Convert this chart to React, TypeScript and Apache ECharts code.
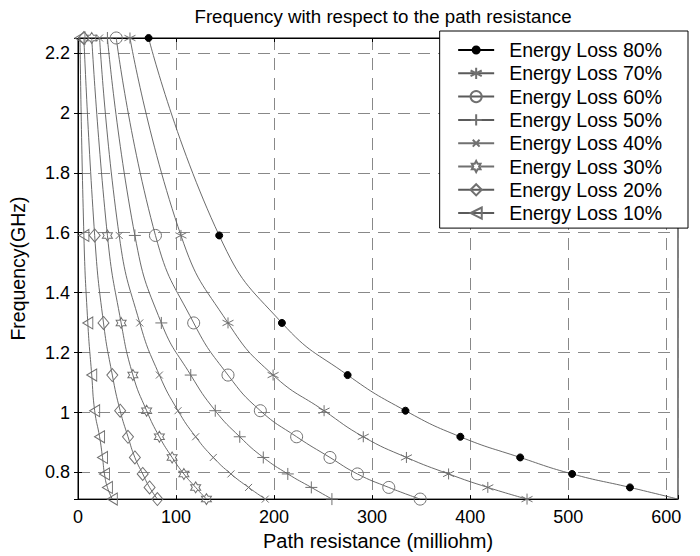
import React, { useEffect, useRef } from 'react';
import * as echarts from 'echarts';

// Frequency (GHz) at each measured point
const frequencyGHz = [2.25, 1.591, 1.299, 1.125, 1.006, 0.919, 0.85, 0.795, 0.75, 0.711];

// Path resistance (milliohm) for each energy loss level, one value per frequency
const loss80 = [72, 144, 208, 275, 334, 390, 451, 504, 563, 612];
const loss70 = [53, 105, 153, 199, 251, 291, 335, 378, 418, 458];
const loss60 = [39, 79, 118, 153, 186, 223, 257, 285, 317, 349];
const loss50 = [30, 58, 85, 115, 140, 165, 189, 214, 238, 259];
const loss40 = [22, 42, 63, 83, 102, 120, 138, 156, 174, 191];
const loss30 = [14, 30, 44, 56, 70, 83, 96, 108, 120, 131];
const loss20 = [6, 17, 26, 35, 43, 51, 58, 66, 73, 81];
const loss10 = [2, 6, 10, 14, 17, 22, 25, 27, 30, 35];

const seriesNames = [
  'Energy Loss 80%',
  'Energy Loss 70%',
  'Energy Loss 60%',
  'Energy Loss 50%',
  'Energy Loss 40%',
  'Energy Loss 30%',
  'Energy Loss 20%',
  'Energy Loss 10%',
];
const seriesValues = [loss80, loss70, loss60, loss50, loss40, loss30, loss20, loss10];

const xTicks = [0, 100, 200, 300, 400, 500, 600];
const yTicks = [0.8, 1, 1.2, 1.4, 1.6, 1.8, 2, 2.2];

const FONT = '"Liberation Sans", Arial, Helvetica, sans-serif';
const LINE = '#5a5a5a';
const MARK = '#707070';

const HEXAGRAM =
  'path://M10,0 L12.89,5 L18.66,5 L15.77,10 L18.66,15 L12.89,15 L10,20 L7.11,15 L1.34,15 L4.23,10 L1.34,5 L7.11,5 Z';
const ASTERISK = 'path://M5,0 L5,10 M0.67,2.5 L9.33,7.5 M0.67,7.5 L9.33,2.5';
const PLUS = 'path://M5,0 L5,10 M0,5 L10,5';
const CROSS = 'path://M0,0 L10,10 M0,10 L10,0';
const LEFT_TRI = 'path://M10,0 L0,6 L10,12 Z';

// legend icons drawn over the full 36x14 legend item box: line + small marker
const LEG_DOT =
  'path://M0,0 M36,14 M0,7 L36,7 M14.5,7 A3.5,3.5 0 1 1 21.5,7 A3.5,3.5 0 1 1 14.5,7 Z';
const LEG_CROSS = 'path://M0,0 M36,14 M0,7 L36,7 M14.6,3.6 L21.4,10.4 M14.6,10.4 L21.4,3.6';
const LEG_HEX =
  'path://M0,0 M36,14 M0,7 L13.67,7 M22.33,7 L36,7 M18,1.5 L19.45,4.25 L22.33,4.25 L20.89,7 L22.33,9.75 L19.45,9.75 L18,12.5 L16.56,9.75 L13.67,9.75 L15.12,7 L13.67,4.25 L16.56,4.25 Z';

const markerStyles: any[] = [
  { symbol: 'circle', size: 7, fill: '#000', border: '#000', legendIcon: LEG_DOT },
  { symbol: ASTERISK, size: 11, fill: 'none', border: MARK },
  { symbol: 'circle', size: 12, fill: 'none', border: MARK },
  { symbol: PLUS, size: 12, fill: 'none', border: MARK },
  { symbol: CROSS, size: 7, fill: 'none', border: MARK, legendIcon: LEG_CROSS },
  { symbol: HEXAGRAM, size: [10, 11], fill: 'none', border: MARK, legendIcon: LEG_HEX },
  { symbol: 'diamond', size: [11, 13], fill: 'none', border: MARK },
  { symbol: LEFT_TRI, size: [10, 12], fill: 'none', border: MARK },
];

function isTick(v: number, ticks: number[]) {
  return ticks.some((t) => Math.abs(t - v) < 1e-6);
}

function buildOption() {
  const series = seriesValues.map((vals, i) => {
    const m = markerStyles[i];
    return {
      name: seriesNames[i],
      type: 'line',
      xAxisIndex: 0,
      yAxisIndex: 0,
      smooth: true,
      clip: false,
      symbol: m.symbol,
      symbolSize: m.size,
      silent: true,
      emphasis: { disabled: true },
      lineStyle: { color: LINE, width: 0.9 },
      itemStyle: { color: m.fill, borderColor: m.border, borderWidth: 1 },
      data: vals.map((r, k) => {
        if (i === 0 && k === vals.length - 1) {
          return { value: [r, frequencyGHz[k]], symbol: 'none' };
        }
        return [r, frequencyGHz[k]];
      }),
      z: 3,
    };
  });

  const legendData = seriesNames.map((name, i) =>
    markerStyles[i].legendIcon ? { name, icon: markerStyles[i].legendIcon } : { name }
  );

  return {
    animation: false,
    backgroundColor: '#fff',
    title: {
      text: 'Frequency with respect to the path resistance',
      left: 378,
      top: 2,
      textAlign: 'center',
      textStyle: { fontFamily: FONT, fontSize: 18.7, fontWeight: 'normal', color: '#000' },
    },
    grid: {
      left: 77,
      right: 22,
      top: 38,
      bottom: 56,
      show: true,
      borderColor: '#000',
      borderWidth: 1,
      backgroundColor: 'transparent',
    },
    legend: {
      orient: 'vertical',
      right: 12,
      top: 31,
      backgroundColor: '#fff',
      borderColor: '#000',
      borderWidth: 1,
      borderRadius: 0,
      padding: [9, 26, 5, 16],
      itemWidth: 36,
      itemHeight: 14,
      itemGap: 3.3,
      textStyle: { fontFamily: FONT, fontSize: 19.5, color: '#000', lineHeight: 14, padding: [0, 0, 0, 10] },
      data: legendData,
      selectedMode: false,
      z: 10,
    },
    xAxis: [
      {
        type: 'value',
        min: 0,
        max: 612,
        interval: 100,
        name: 'Path resistance (milliohm)',
        nameLocation: 'middle',
        nameGap: 30,
        nameTextStyle: { fontFamily: FONT, fontSize: 20, color: '#000' },
        axisLine: { show: true, lineStyle: { color: '#000' } },
        axisTick: { show: true, inside: true, length: 4, lineStyle: { color: '#000' } },
        axisLabel: {
          fontFamily: FONT,
          fontSize: 18,
          color: '#000',
          margin: 9,
          formatter: (v: number) => (isTick(v, xTicks) ? String(v) : ''),
        },
        splitLine: { show: true, lineStyle: { color: '#888', type: [12, 8], width: 1 } },
      },
      {
        type: 'value',
        position: 'top',
        min: 0,
        max: 612,
        interval: 100,
        axisLine: { show: true, lineStyle: { color: '#000' } },
        axisTick: { show: true, inside: true, length: 4, lineStyle: { color: '#000' } },
        axisLabel: { show: false },
        splitLine: { show: false },
      },
    ],
    yAxis: [
      {
        type: 'value',
        min: 0.711,
        max: 2.25,
        splitNumber: 7,
        name: 'Frequency(GHz)',
        nameLocation: 'middle',
        nameGap: 50,
        nameTextStyle: { fontFamily: FONT, fontSize: 19.5, color: '#000' },
        axisLine: { show: true, lineStyle: { color: '#000' } },
        axisTick: { show: true, inside: true, length: 4, lineStyle: { color: '#000' } },
        axisLabel: {
          fontFamily: FONT,
          fontSize: 18,
          color: '#000',
          margin: 8,
          showMinLabel: false,
          showMaxLabel: false,
          formatter: (v: number) => (isTick(v, yTicks) ? String(Math.round(v * 10) / 10) : ''),
        },
        splitLine: { show: true, lineStyle: { color: '#888', type: [12, 8], width: 1 } },
      },
      {
        type: 'value',
        position: 'right',
        min: 0.711,
        max: 2.25,
        splitNumber: 7,
        axisLine: { show: true, lineStyle: { color: '#000' } },
        axisTick: { show: true, inside: true, length: 4, lineStyle: { color: '#000' } },
        axisLabel: { show: false },
        splitLine: { show: false },
      },
    ],
    series,
  };
}

export default function App() {
  const ref = useRef<HTMLDivElement>(null);
  useEffect(() => {
    document.body.style.margin = '0';
    const chart = echarts.init(ref.current!, null, { renderer: 'svg' });
    chart.setOption(buildOption() as any);
    return () => chart.dispose();
  }, []);
  return <div ref={ref} style={{ width: 700, height: 556 }} />;
}
